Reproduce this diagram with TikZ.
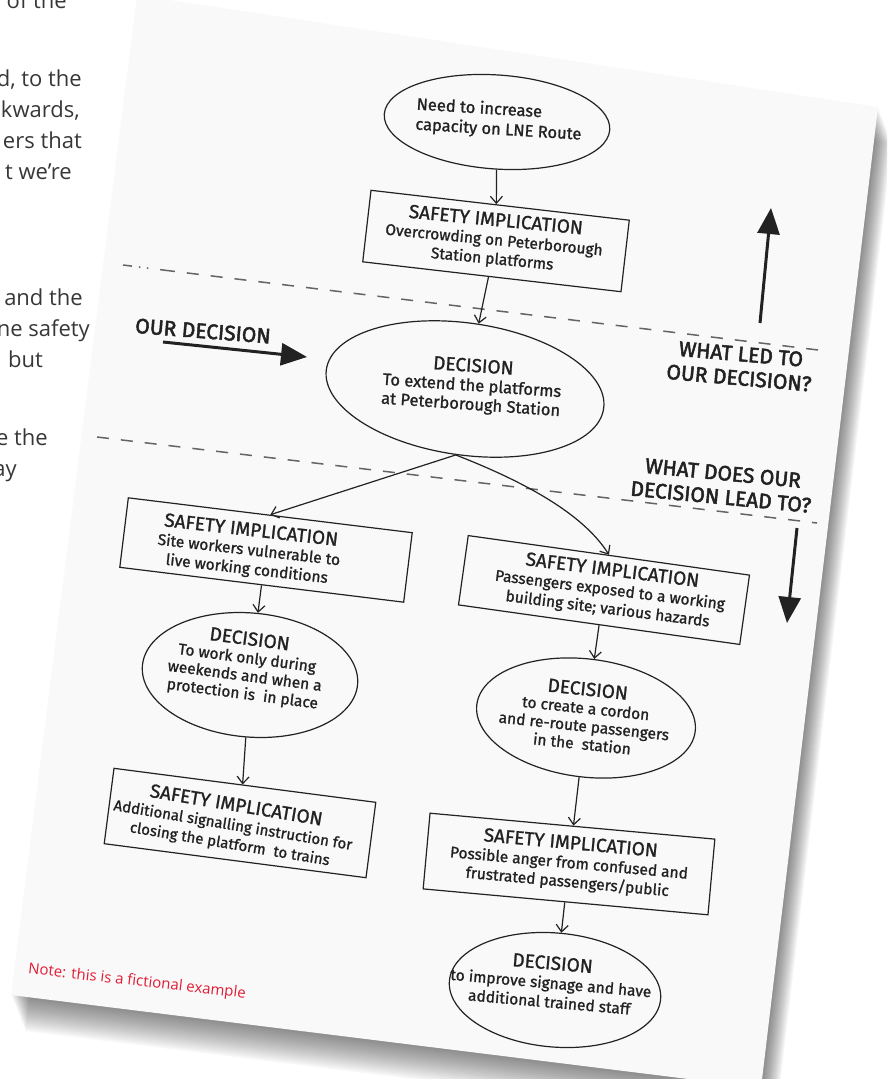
\documentclass[tikz,border=0pt]{standalone}
\usepackage{fontspec}
\newfontfamily\handfont{Fira Sans}[FakeBold=1.2]
\newfontfamily\markerfont{Fira Sans}[FakeBold=2.4]
\newfontfamily\pagefont{Open Sans}
\usetikzlibrary{shapes.geometric,arrows.meta}

\definecolor{ink}{RGB}{34,34,34}
\definecolor{pagegrey}{RGB}{249,249,249}
\definecolor{copytext}{RGB}{55,55,55}
\definecolor{notered}{RGB}{226,28,52}
\definecolor{dashgrey}{RGB}{100,100,100}

% heading line inside the hand-lettered boxes
\newcommand\hd[1]{{\fontsize{19}{21}\selectfont #1}}

\tikzset{
  dec/.style={ellipse, draw=ink, line width=1.2pt, inner sep=0pt},
  sibox/.style={rectangle, draw=ink, line width=1.2pt, inner sep=0pt},
  hand/.style={font=\handfont\fontsize{15.5}{19}\selectfont, text=ink, align=center, inner sep=0pt},
  handlabel/.style={font=\markerfont\fontsize{21}{24}\selectfont, text=ink, align=center, inner sep=0pt},
  flow/.style={draw=ink, line width=1.2pt, -{Straight Barb[length=7pt,width=12pt]}},
  bigarrow/.style={draw=ink, line width=3pt, -{Triangle[length=26pt,width=22pt]}},
  divider/.style={draw=dashgrey, line width=1.5pt, dash pattern=on 12pt off 12pt},
  copy/.style={font=\pagefont\fontsize{22}{31}\selectfont, text=copytext, anchor=base east, inner sep=0pt},
}

\begin{document}
\begin{tikzpicture}[x=1pt,y=-1pt]
\useasboundingbox (0,0) rectangle (887,1079);
\clip (0,0) rectangle (887,1079);

% body copy running in from the left margin
\node[copy] (c1) at (67,8) {of the};
\node[copy] (c2) at (82,86) {d, to the};
\node[copy] (c3) at (80,117) {kwards,};
\node[copy] (c4) at (82,148) {ers that};
\node[copy] (c5) at (72,179) {t we’re};
\node[copy] (c6) at (83,305) {and the};
\node[copy] (c7) at (90,336) {ne safety};
\node[copy] (c8) at (43,367) {but};
\node[copy] (c9) at (48,445) {e the};
\node[copy] (c10) at (17,476) {ay};

% soft drop shadow under the sheet
\foreach \i in {1,...,18}{
  \fill[black, opacity=0.03, shift={(0.8*\i,2*\i)}]
    (137,-5) -- (878,107) -- (761,1088) -- (11,995) -- cycle;
}
% the tilted sheet
\fill[pagegrey] (137,-5) -- (878,107) -- (761,1088) -- (11,995) -- cycle;

% dashed dividers
\coordinate (u0) at (123,265);
\coordinate (u1) at (163,270);
\coordinate (u2) at (818,350);
\draw[divider, dash pattern=on 9pt off 7pt on 1.5pt off 6.5pt on 1.5pt off 12pt] (u0) -- (u1);
\draw[divider] (u1) -- (u2);
\coordinate (l0) at (97,437);
\coordinate (l1) at (817,523);
\draw[divider] (l0) -- (l1);

% flow shapes
\node[dec, minimum width=226pt, minimum height=94pt, rotate=-4] (d0) at (497,122) {};
\node[hand, font=\handfont\fontsize{16.5}{20}\selectfont, align=left, rotate=-3.5] (d0t) at (499,120) {Need to increase\\capacity on LNE Route};

\node[sibox, minimum width=260pt, minimum height=72pt, rotate=-6.6] (s1) at (496,241) {};
\node[hand, rotate=-5.5] (s1t) at (494,240) {\hd{SAFETY IMPLICATION}\\Overcrowding on Peterborough\\Station platforms};

\node[dec, minimum width=280pt, minimum height=132pt, rotate=-8] (d1) at (465,389) {};
\node[hand, font=\handfont\fontsize{16.5}{19}\selectfont, rotate=-4] (d1t) at (472,386) {\hd{DECISION}\\To extend the platforms\\at Peterborough Station};

\node[sibox, minimum width=286pt, minimum height=70pt, rotate=-7] (s2) at (266,550) {};
\node[hand, rotate=-6.5] (s2t) at (249,550) {\hd{SAFETY IMPLICATION}\\Site workers vulnerable to\\live working conditions};

\node[dec, minimum width=216pt, minimum height=124pt, rotate=-5] (d2) at (250,675) {};
\node[hand, font=\handfont\fontsize{15.5}{18}\selectfont, rotate=-7.5] (d2t) at (246,667) {\hd{DECISION}\\To work only during\\weekends and when a\\protection is\ \ in place};

\node[sibox, minimum width=264pt, minimum height=76pt, rotate=-7.4] (s4) at (240,823) {};
\node[hand, font=\handfont\fontsize{15}{19}\selectfont, rotate=-9.5] (s4t) at (233,825) {\hd{SAFETY IMPLICATION}\\Additional signalling instruction for\\closing the platform\ \ to trains};

\node[sibox, minimum width=284pt, minimum height=70pt, rotate=-8] (s3) at (604,590) {};
\node[hand, rotate=-7.2] (s3t) at (610,590) {\hd{SAFETY IMPLICATION}\\Passengers exposed to a working\\building site; various hazards};

\node[dec, minimum width=220pt, minimum height=118pt, rotate=-7] (d3) at (586,718) {};
\node[hand, font=\handfont\fontsize{15.5}{18}\selectfont, rotate=-6] (d3t) at (585,716) {\hd{DECISION}\\to create a cordon\\and re-route passengers\\in the\ \ station};

\node[sibox, minimum width=286pt, minimum height=76pt, rotate=-5.2] (s5) at (569,864) {};
\node[hand, rotate=-5.2] (s5t) at (569,863) {\hd{SAFETY IMPLICATION}\\Possible anger from confused and\\frustrated passengers/public};

\node[dec, minimum width=212pt, minimum height=114pt, rotate=-5] (d4) at (555,990) {};
\node[hand, rotate=-5] (d4t) at (551,982) {\hd{DECISION}\\to improve signage and have\\additional trained staff};

% connectors
\draw[flow] (d0) -- (s1);
\draw[flow] (s1) -- (d1);
\draw[flow] (d1.south) -- (s2.north);
\draw[flow] (d1.south) .. controls (520,480) and (582,512) .. (s3.north);
\draw[flow] (s2) -- (d2);
\draw[flow] (d2) -- (s4);
\draw[flow] (s3) -- (d3);
\draw[flow] (d3) -- (s5);
\draw[flow] (s5) -- (d4);

% side labels and heavy arrows
\node[handlabel, rotate=-4.5] (ourdec) at (203,331) {OUR DECISION};
\coordinate (oa) at (163,342);
\coordinate (ob) at (307,357);
\draw[bigarrow] (oa) -- (ob);

\node[handlabel, rotate=-5] (led) at (740,366) {WHAT LED TO\\OUR DECISION?};
\coordinate (ua) at (760,323);
\coordinate (ub) at (771,208);
\draw[bigarrow] (ua) -- (ub);

\node[handlabel, rotate=-5.5] (leads) at (722,485) {WHAT DOES OUR\\DECISION LEAD TO?};
\coordinate (da) at (797,528);
\coordinate (db) at (787,623);
\draw[bigarrow] (da) -- (db);

% disclaimer
\node[font=\pagefont\fontsize{15}{18}\selectfont, text=notered, rotate=-6.5, inner sep=0pt] (note) at (137,982) {Note: this is a fictional example};
\end{tikzpicture}
\end{document}
